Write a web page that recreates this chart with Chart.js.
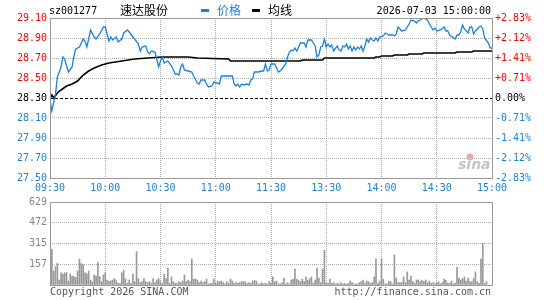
<!DOCTYPE html>
<html>
<head>
<meta charset="utf-8">
<script src="https://cdn.jsdelivr.net/npm/chart.js@4/dist/chart.umd.min.js"></script>
<style>
  html, body { margin: 0; padding: 0; background: #fff; }
  #wrap { position: relative; width: 545px; height: 300px; }
  #wrap canvas { position: absolute; left: 0; top: 0; }
</style>
</head>
<body>
<div id="wrap">
  <canvas id="priceChart" width="545" height="300"></canvas>
  <canvas id="volChart" width="545" height="300"></canvas>
</div>
<script>
// stock info
const stockCode = "sz001277";
const stockName = "速达股份";
const stampText = "2026-07-03 15:00:00";
const prevClose = 28.30;

// time axis (minutes from 09:30, lunch break removed)
const timeTicks = [0, 30, 60, 90, 120, 150, 180, 210, 240];
const timeLabels = ["09:30", "10:00", "10:30", "11:00", "11:30", "13:30", "14:00", "14:30", "15:00"];

// price axis
const priceTicks = [27.5, 27.7, 27.9, 28.1, 28.3, 28.5, 28.7, 28.9, 29.1];
const priceLabels = ["27.50", "27.70", "27.90", "28.10", "28.30", "28.50", "28.70", "28.90", "29.10"];
const pctLabels = ["-2.83%", "-2.12%", "-1.41%", "-0.71%", "0.00%", "+0.71%", "+1.41%", "+2.12%", "+2.83%"];

// volume axis
const volTicks = [0, 157.25, 314.5, 471.75, 629];
const volLabels = ["", "157", "315", "472", "629"];

// price line (minute, price)
const priceMin = [0, 1, 3, 4, 6, 7, 8, 9, 10, 12, 13, 14, 16, 18, 19, 20, 21, 22, 24, 25, 27, 29, 30, 31, 32, 33, 34, 36, 37, 39, 40, 42, 43, 45, 46, 48, 49, 50, 52, 53, 54, 55, 57, 58, 59, 60, 61, 62, 64, 66, 68, 69, 70, 71, 72, 73, 75, 77, 78, 80,
  81, 82, 84, 85, 86, 88, 89, 90, 91, 92, 93, 99, 100, 101, 102, 103, 104, 105, 107, 108, 109, 110, 111, 113, 115, 116, 117, 118, 119, 120, 122, 124, 125, 126, 128, 129, 130, 131, 132, 133, 134, 135, 136, 137, 138, 139, 140, 142, 143, 144, 145, 146, 147, 148, 149, 150, 151, 152, 153, 154, 156, 157,
  158, 159, 160, 161, 162, 163, 164, 165, 166, 167, 168, 169, 170, 171, 172, 173, 174, 175, 176, 177, 178, 179, 181, 182, 184, 186, 187, 188, 189, 191, 193, 194, 195, 196, 198, 199, 200, 202, 203, 205, 206, 207, 208, 209, 210, 212, 214, 215, 216, 217, 220, 221, 222, 223, 224, 225, 227, 228, 229, 230, 231, 233, 234, 235, 236, 238, 239, 240];
const priceVal = [28.29, 28.17, 28.34, 28.51, 28.61, 28.71, 28.69, 28.62, 28.56, 28.61, 28.72, 28.79, 28.81, 28.89, 28.87, 28.81, 28.89, 28.98, 28.91, 28.89, 28.94, 29.01, 29.01, 28.94, 28.87, 28.91, 28.88, 28.91, 28.86, 28.89, 28.95, 28.98, 28.96, 28.91, 28.89, 28.84, 28.77, 28.81, 28.82, 28.76, 28.74, 28.77, 28.76, 28.69, 28.61, 28.67, 28.71, 28.65, 28.67, 28.62, 28.54, 28.54, 28.53, 28.61, 28.64, 28.58, 28.57, 28.56, 28.52, 28.45,
  28.44, 28.48, 28.48, 28.44, 28.41, 28.42, 28.46, 28.45, 28.45, 28.44, 28.52, 28.52, 28.44, 28.42, 28.44, 28.41, 28.44, 28.43, 28.44, 28.43, 28.48, 28.49, 28.56, 28.56, 28.57, 28.57, 28.64, 28.57, 28.58, 28.64, 28.64, 28.56, 28.57, 28.59, 28.64, 28.71, 28.76, 28.78, 28.77, 28.80, 28.77, 28.81, 28.85, 28.85, 28.85, 28.81, 28.88, 28.88, 28.85, 28.82, 28.71, 28.73, 28.81, 28.82, 28.89, 28.81, 28.84, 28.81, 28.83, 28.77, 28.82, 28.78, 28.77,
  28.82, 28.81, 28.84, 28.79, 28.82, 28.77, 28.81, 28.78, 28.81, 28.79, 28.82, 28.77, 28.82, 28.89, 28.86, 28.90, 28.88, 28.87, 28.90, 28.87, 28.91, 28.92, 28.95, 28.93, 28.93, 28.92, 28.94, 29.01, 28.97, 28.98, 29.01, 29.04, 29.08, 29.07, 29.05, 29.07, 29.09, 29.10, 29.08, 29.04, 29.01, 28.98, 29.00, 28.97, 28.98, 29.01, 28.97, 28.97, 28.93, 28.89, 28.93, 28.93, 28.96, 29.03, 28.99, 28.95, 29.01, 29.01, 28.94, 28.97, 29.01, 29.02, 28.99, 28.90, 28.85, 28.80, 28.80, 28.83, 28.89];

// average line (minute, price)
const avgMin = [0, 1, 2, 4, 6, 9, 12, 15, 18, 21, 24, 28, 32, 39, 46, 53, 61, 75, 80, 97, 98, 136, 137, 148, 149, 176, 177, 179, 180, 186, 187, 194, 195, 202, 203, 220, 221, 229, 230, 240];
const avgVal = [28.30, 28.33, 28.30, 28.35, 28.38, 28.42, 28.44, 28.47, 28.53, 28.57, 28.60, 28.63, 28.65, 28.67, 28.69, 28.70, 28.71, 28.71, 28.70, 28.69, 28.67, 28.67, 28.68, 28.68, 28.70, 28.70, 28.71, 28.71, 28.72, 28.72, 28.73, 28.73, 28.74, 28.74, 28.75, 28.75, 28.76, 28.76, 28.77, 28.77];

// volume per minute (lots)
const volumes = [629, 270, 106, 139, 164, 38, 93, 83, 93, 93, 30, 83, 68, 63, 56, 106, 197, 164, 152, 93,
  83, 106, 38, 25, 76, 68, 169, 63, 25, 76, 93, 38, 25, 30, 38, 48, 33, 13, 13, 93,
  114, 48, 13, 38, 13, 83, 25, 253, 48, 18, 25, 48, 25, 18, 25, 13, 48, 18, 38, 48,
  25, 13, 83, 48, 129, 13, 61, 25, 13, 13, 25, 18, 30, 76, 25, 38, 25, 197, 45, 45,
  38, 18, 30, 18, 25, 45, 8, 13, 13, 45, 13, 30, 25, 30, 18, 8, 25, 13, 45, 30,
  13, 18, 13, 18, 25, 25, 25, 13, 18, 13, 30, 35, 30, 8, 8, 18, 8, 13, 8, 25,
  13, 61, 25, 30, 8, 8, 18, 53, 8, 18, 8, 38, 43, 121, 43, 35, 25, 45, 25, 61,
  35, 48, 61, 13, 38, 129, 53, 18, 121, 265, 18, 13, 45, 13, 18, 8, 13, 8, 18, 8,
  13, 8, 13, 30, 18, 8, 8, 8, 18, 25, 38, 13, 30, 25, 13, 18, 61, 197, 13, 30,
  197, 43, 8, 8, 25, 25, 8, 227, 53, 18, 18, 18, 61, 18, 99, 38, 68, 25, 13, 38,
  38, 25, 38, 25, 38, 18, 30, 13, 18, 8, 18, 25, 8, 18, 45, 35, 13, 13, 30, 8,
  13, 136, 53, 38, 48, 61, 30, 53, 25, 25, 48, 99, 25, 13, 197, 316, 13, 25];

const BLUE = "#1e82d2";
const RED = "#ff0000";
const GRID = "#aaaaaa";
const FRAME = "#999999";
const MONO = "'DejaVu Sans Mono', 'Liberation Mono', monospace";
const CJK = "'Noto Sans CJK SC', sans-serif";

function labelColor(v) {
    if (Math.abs(v - prevClose) < 1e-6) return "#000";
    return v > prevClose ? RED : BLUE;
}

// frame around each plot area
const framePlugin = {
    id: "frame",
    afterDraw(chart) {
        const a = chart.chartArea;
        const ctx = chart.ctx;
        ctx.save();
        ctx.strokeStyle = FRAME;
        ctx.lineWidth = 1;
        ctx.strokeRect(Math.round(a.left) + 0.5, Math.round(a.top) + 0.5,
            Math.round(a.right - a.left), Math.round(a.bottom - a.top));
        ctx.restore();
    }
};

// header, legend, watermark, footer
const textPlugin = {
    id: "texts",
    afterDraw(chart) {
        const ctx = chart.ctx;
        ctx.save();
        ctx.textBaseline = "middle";
        ctx.font = "10px " + MONO;
        ctx.fillStyle = "#000";
        ctx.textAlign = "left";
        ctx.fillText(stockCode, 49, 11);
        ctx.font = "12px " + CJK;
        ctx.fillText(stockName, 120, 10);

        // legend from datasets
        let lx = 201;
        chart.data.datasets.slice(0, 2).forEach(ds => {
            ctx.fillStyle = ds.borderColor;
            ctx.fillRect(lx, 9, 8, 3);
            ctx.fillText(ds.label, lx + 16, 10);
            lx += 51;
        });

        ctx.fillStyle = "#000";
        ctx.font = "10px " + MONO;
        ctx.textAlign = "right";
        ctx.fillText(stampText, 491, 11);

        // sina watermark
        ctx.fillStyle = "#eaa8a8";
        ctx.beginPath();
        ctx.arc(470, 157, 3.5, 0, Math.PI * 2);
        ctx.fill();
        ctx.fillStyle = "#c4c4c4";
        ctx.font = "italic bold 14px 'DejaVu Sans', sans-serif";
        ctx.textAlign = "left";
        ctx.textBaseline = "alphabetic";
        ctx.fillText("sina", 458, 169);

        // footer
        ctx.fillStyle = "#555";
        ctx.font = "10px " + MONO;
        ctx.textBaseline = "middle";
        ctx.fillText("Copyright 2026 SINA.COM", 50, 292);
        ctx.textAlign = "right";
        ctx.fillText("http://finance.sina.com.cn", 491, 292);
        ctx.restore();
    }
};

const dotted = { dash: [1, 1], display: false };

new Chart(document.getElementById("priceChart"), {
    type: "line",
    data: {
        datasets: [
            {
                label: "价格",
                data: priceMin.map((m, i) => ({ x: m, y: priceVal[i] })),
                borderColor: BLUE,
                borderWidth: 1.3,
                pointRadius: 0,
                tension: 0
            },
            {
                label: "均线",
                data: avgMin.map((m, i) => ({ x: m, y: avgVal[i] })),
                borderColor: "#000",
                borderWidth: 1.6,
                pointRadius: 0,
                tension: 0
            }
        ]
    },
    options: {
        responsive: false,
        animation: false,
        events: [],
        layout: { padding: { top: 18, bottom: 100, left: 0, right: 0 } },
        plugins: { legend: { display: false }, tooltip: { enabled: false } },
        scales: {
            x: {
                type: "linear",
                min: 0,
                max: 240,
                afterBuildTicks: s => { s.ticks = timeTicks.map(v => ({ value: v })); },
                afterFit: s => { s.height = 22; },
                ticks: {
                    autoSkip: false,
                    maxRotation: 0,
                    padding: 4,
                    color: BLUE,
                    font: { family: MONO, size: 10 },
                    callback: (v, i) => timeLabels[i]
                },
                grid: { color: GRID, drawTicks: false },
                border: dotted
            },
            y: {
                position: "left",
                min: priceTicks[0],
                max: priceTicks[priceTicks.length - 1],
                afterBuildTicks: s => { s.ticks = priceTicks.map(v => ({ value: v })); },
                afterFit: s => { s.width = 50; },
                ticks: {
                    padding: 3,
                    color: c => labelColor(c.tick.value),
                    font: { family: MONO, size: 10 },
                    callback: (v, i) => priceLabels[i]
                },
                grid: {
                    drawTicks: false,
                    color: c => (c.tick && Math.abs(c.tick.value - prevClose) < 1e-6) ? "#000" : GRID
                },
                border: {
                    display: false,
                    dash: c => (c.tick && Math.abs(c.tick.value - prevClose) < 1e-6) ? [3, 2] : [1, 1]
                }
            },
            y2: {
                position: "right",
                min: priceTicks[0],
                max: priceTicks[priceTicks.length - 1],
                afterBuildTicks: s => { s.ticks = priceTicks.map(v => ({ value: v })); },
                afterFit: s => { s.width = 53; },
                ticks: {
                    padding: 3,
                    color: c => labelColor(c.tick.value),
                    font: { family: MONO, size: 10 },
                    callback: (v, i) => pctLabels[i]
                },
                grid: { display: false, drawTicks: false },
                border: { display: false }
            }
        }
    },
    plugins: [framePlugin, textPlugin]
});

new Chart(document.getElementById("volChart"), {
    type: "bar",
    data: {
        datasets: [{
            label: "成交量",
            data: volumes.map((v, i) => ({ x: i, y: v })),
            backgroundColor: "#999999",
            barThickness: 1
        }]
    },
    options: {
        responsive: false,
        animation: false,
        events: [],
        layout: { padding: { top: 202, bottom: 15, left: 0, right: 53 } },
        plugins: { legend: { display: false }, tooltip: { enabled: false } },
        scales: {
            x: {
                type: "linear",
                min: 0,
                max: 240,
                offset: false,
                afterBuildTicks: s => { s.ticks = timeTicks.map(v => ({ value: v })); },
                afterFit: s => { s.height = 0; },
                ticks: { display: false },
                grid: { color: GRID, drawTicks: false, offset: false },
                border: dotted
            },
            y: {
                position: "left",
                min: 0,
                max: volTicks[volTicks.length - 1],
                afterBuildTicks: s => { s.ticks = volTicks.map(v => ({ value: v })); },
                afterFit: s => { s.width = 50; },
                ticks: {
                    padding: 3,
                    color: "#888888",
                    font: { family: MONO, size: 10 },
                    callback: (v, i) => volLabels[i]
                },
                grid: { color: GRID, drawTicks: false },
                border: dotted
            }
        }
    },
    plugins: [framePlugin]
});
</script>
</body>
</html>
